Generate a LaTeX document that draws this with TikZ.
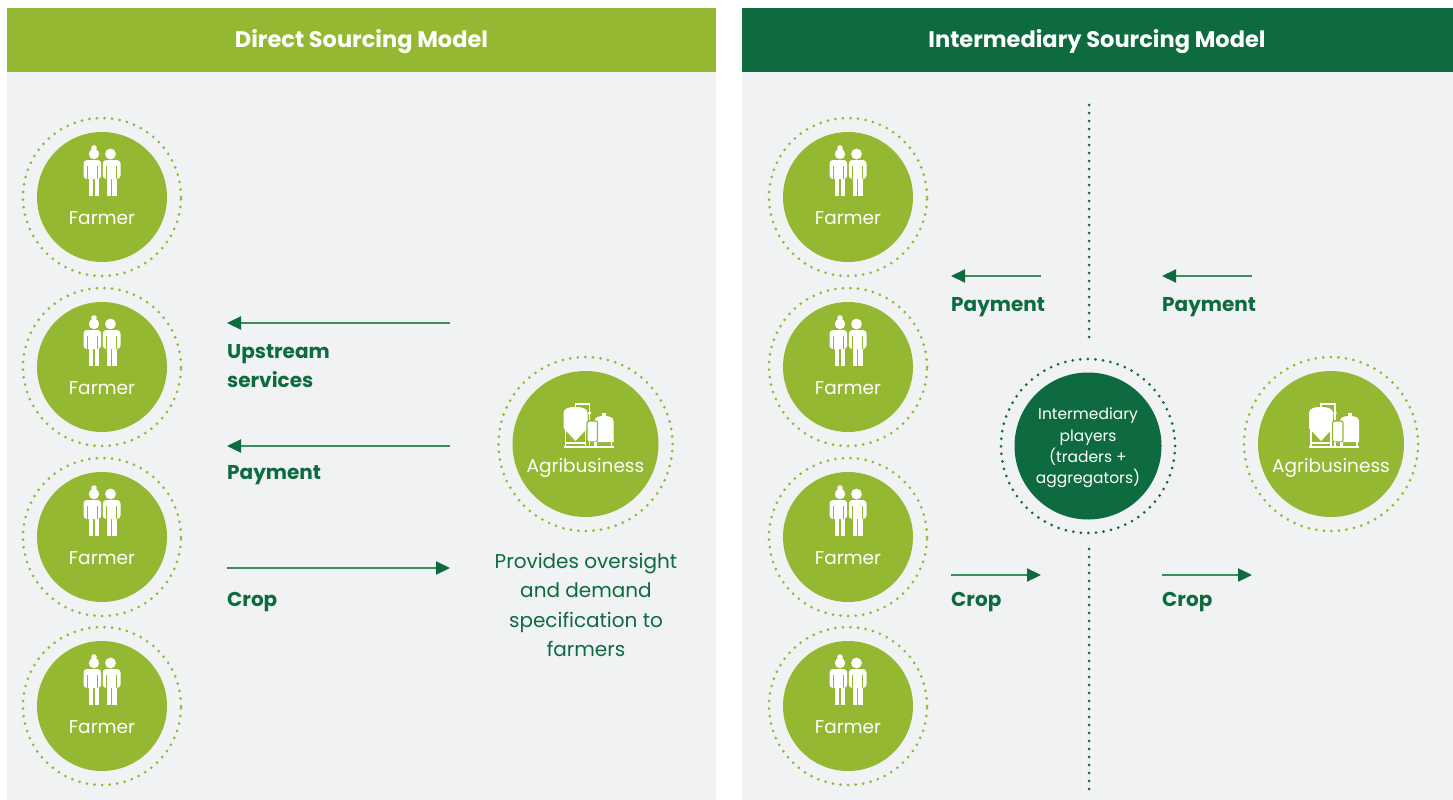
\documentclass[tikz,border=0pt]{standalone}
\usepackage{fontspec}
\setmainfont{Poppins}
\usetikzlibrary{arrows.meta}
\definecolor{lgreen}{RGB}{149,184,51}
\definecolor{dgreen}{RGB}{13,107,63}
\definecolor{bggrey}{RGB}{241,242,244}
\definecolor{arrowc}{RGB}{61,140,95}
\tikzset{
  inner/.style={circle,fill=lgreen,minimum size=130pt,inner sep=0pt},
  bigin/.style={circle,fill=lgreen,minimum size=146pt,inner sep=0pt},
  ring/.style={circle,draw=lgreen,line width=3pt,dash pattern=on 0pt off 7.6pt,line cap=round,inner sep=0pt},
  darkring/.style={circle,draw=dgreen,line width=3pt,dash pattern=on 0pt off 7.6pt,line cap=round,inner sep=0pt},
  header/.style={text=white,font=\fontsize{22.5}{26}\selectfont\bfseries,inner sep=0pt,anchor=base},
  circlabel/.style={text=white,font=\fontsize{18.5}{22}\selectfont,inner sep=0pt},
  flowlabel/.style={text=dgreen,font=\fontsize{20}{24}\selectfont\bfseries,inner sep=0pt,anchor=base west},
  flow/.style={draw=arrowc,line width=2.2pt,-{Triangle[length=14pt,width=13pt,fill=dgreen,color=dgreen]}},
  vdots/.style={draw=dgreen,line width=3pt,dash pattern=on 0pt off 8pt,line cap=round},
  farmericon/.pic={
    % left person (with bun)
    \fill[white] (-8,-49) circle (2.8);
    \fill[white] (-8,-43) circle (5.2);
    \fill[white,rounded corners=3.5] (-18.5,-37) rectangle (-0.8,-18);
    \fill[white] (-13,-20) rectangle (-8.6,-1);
    \fill[white] (-7.4,-20) rectangle (-3,-1);
    \draw[lgreen,line width=1pt] (-14.5,-31) -- (-14.5,-18) (-4.8,-31) -- (-4.8,-18);
    % right person
    \fill[white] (8.5,-43) circle (5.4);
    \fill[white,rounded corners=3.5] (0.8,-37) rectangle (18.5,-18);
    \fill[white] (4.5,-20) rectangle (8.9,-1);
    \fill[white] (10.1,-20) rectangle (14.5,-1);
    \draw[lgreen,line width=1pt] (4.8,-31) -- (4.8,-18) (14.5,-31) -- (14.5,-18);
  },
  agriicon/.pic={
    % pipe
    \draw[white,line width=1.3pt] (-10,-36) -- (-10,-40) -- (4,-40) -- (4,-24);
    \fill[white] (4,-31) circle (1.8);
    % big tank
    \fill[white] (-22,-16) -- (-22,-31) to[out=90,in=180] (-10,-37) to[out=0,in=90] (2,-31) -- (2,-16) -- (-10,-3) -- cycle;
    \draw[white,line width=1.3pt] (-20,-16) -- (-20,3) (0,-16) -- (0,3) (-20,-1) -- (0,-1);
    % right tank
    \fill[white] (9,-2) -- (9,-23) to[out=90,in=180] (18.5,-28) to[out=0,in=90] (28,-23) -- (28,-2) -- cycle;
    \fill[white] (16.5,-31) rectangle (20.5,-27);
    \draw[white,line width=1.3pt] (11,-2) -- (11,3) (26,-2) -- (26,3);
    % middle tank
    \filldraw[white,draw=lgreen,line width=1.2pt,rounded corners=2] (1.5,-23) rectangle (12,-2);
    \draw[white,line width=1.3pt] (4,-2) -- (4,3) (9.5,-2) -- (9.5,3);
    \draw[white,line width=1.1pt] (-22,3) -- (28,3);
  }
}
\begin{document}
\begin{tikzpicture}[x=1pt,y=-1pt]
\useasboundingbox (0,0) rectangle (1453,800);
\fill[white] (0,0) rectangle (1453,800);
% panels
\fill[bggrey] (7,72) rectangle (716,800);
\fill[lgreen] (7,8) rectangle (716,72);
\fill[bggrey] (742,72) rectangle (1453,800);
\fill[dgreen] (742,8) rectangle (1453,72);
\node[header] (h1) at (361.5,48) {Direct Sourcing Model};
\node[header] (h2) at (1097,48) {Intermediary Sourcing Model};

% farmers, both panels
\foreach \side/\x in {L/102,R/848}{
  \foreach \i/\y in {1/197,2/367,3/537,4/706}{
    \node[ring,minimum size=158pt] (ring\side\i) at (\x,\y) {};
    \node[inner] (farm\side\i) at (\x,\y) {};
    \pic at (\x,\y) {farmericon};
    \node[circlabel] (farmlab\side\i) at (\x,\y+21) {Farmer};
  }
}

% agribusiness left
\node[ring,minimum size=174pt] (agriringL) at (585.5,444) {};
\node[bigin] (agriL) at (585.5,444) {};
\pic at (585.5,444) {agriicon};
\node[circlabel,anchor=base] (agrilabL) at (585.5,472.5) {Agribusiness};
\node[text=dgreen,font=\fontsize{20}{29.5}\selectfont,align=center,inner sep=0pt] (provides) at (586,605)
  {Provides oversight\\and demand\\specification to\\farmers};

% agribusiness right
\node[ring,minimum size=174pt] (agriringR) at (1331,444) {};
\node[bigin] (agriR) at (1331,444) {};
\pic at (1331,444) {agriicon};
\node[circlabel,anchor=base] (agrilabR) at (1331,472.5) {Agribusiness};

% divider and intermediary
\coordinate (vtop) at (1089,105);
\coordinate (vmid1) at (1089,343);
\coordinate (vmid2) at (1089,549);
\coordinate (vbot) at (1089,790);
\draw[vdots] (vtop) -- (vmid1);
\draw[vdots] (vmid2) -- (vbot);
\node[darkring,minimum size=174pt] (interring) at (1088,446) {};
\node[circle,fill=dgreen,minimum size=147pt,inner sep=0pt] (inter) at (1088,446) {};
\node[text=white,font=\fontsize{15.5}{21.3}\selectfont,align=center,inner sep=0pt] (interlab) at (1088,448)
  {Intermediary\\players\\(traders +\\aggregators)};

% left flows
\coordinate (up1) at (450,323); \coordinate (up2) at (227,323);
\coordinate (pay1) at (450,446); \coordinate (pay2) at (227,446);
\coordinate (crop1) at (227,568); \coordinate (crop2) at (450,568);
\draw[flow] (up1) -- (up2);
\draw[flow] (pay1) -- (pay2);
\draw[flow] (crop1) -- (crop2);
\node[flowlabel] (lup1) at (227,358) {Upstream};
\node[flowlabel] (lup2) at (227,387) {services};
\node[flowlabel] (lpay) at (227,479) {Payment};
\node[flowlabel] (lcrop) at (227,606) {Crop};

% right flows
\coordinate (rpa1) at (1041,276); \coordinate (rpa2) at (951,276);
\coordinate (rpb1) at (1252,276); \coordinate (rpb2) at (1162,276);
\coordinate (rca1) at (951,575); \coordinate (rca2) at (1041,575);
\coordinate (rcb1) at (1162,575); \coordinate (rcb2) at (1252,575);
\draw[flow] (rpa1) -- (rpa2);
\draw[flow] (rpb1) -- (rpb2);
\draw[flow] (rca1) -- (rca2);
\draw[flow] (rcb1) -- (rcb2);
\node[flowlabel] (rlpa) at (951,311) {Payment};
\node[flowlabel] (rlpb) at (1162,311) {Payment};
\node[flowlabel] (rlca) at (951,606) {Crop};
\node[flowlabel] (rlcb) at (1162,606) {Crop};
\end{tikzpicture}
\end{document}
